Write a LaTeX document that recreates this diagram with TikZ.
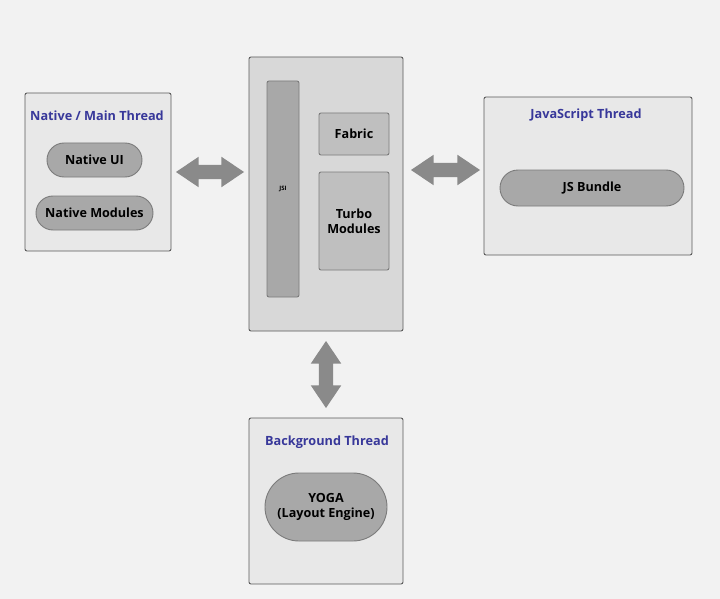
\documentclass[tikz,border=0pt]{standalone}
\usepackage{fontspec}
\setmainfont{Open Sans}
\usetikzlibrary{shapes.misc,shapes.arrows,positioning}
\definecolor{pagebg}{HTML}{F2F2F2}
\definecolor{boxfill}{HTML}{E8E8E8}
\definecolor{corefill}{HTML}{D8D8D8}
\definecolor{pillfill}{HTML}{A8A8A8}
\definecolor{partfill}{HTML}{BFBFBF}
\definecolor{edge}{HTML}{5A5A5A}
\definecolor{titleblue}{HTML}{38389A}
\definecolor{arrowgray}{HTML}{8A8A8A}
\tikzset{
  threadbox/.style={draw=edge, fill=boxfill, line width=0.9pt, rounded corners=2pt, inner sep=0pt},
  title/.style={font=\bfseries\fontsize{12.7}{15}\selectfont, text=titleblue, inner sep=0pt},
  pill/.style={rounded rectangle, draw=edge!80, fill=pillfill, line width=0.9pt, inner sep=0pt,
    font=\bfseries\fontsize{12.6}{15}\selectfont, align=center},
  part/.style={draw=edge!80, fill=partfill, line width=0.9pt, rounded corners=2pt, inner sep=0pt,
    font=\bfseries\fontsize{12.6}{15}\selectfont, align=center},
  bigarrow/.style={double arrow, fill=arrowgray, draw=none, inner xsep=0pt, inner ysep=7pt,
    minimum width=30pt, double arrow head extend=8pt, double arrow tip angle=68},
}
\begin{document}
\begin{tikzpicture}[x=1pt,y=-1pt]
  \useasboundingbox[fill=pagebg] (0,0) rectangle (720,599);
  % native / main thread
  \node[threadbox, minimum width=146pt, minimum height=158pt] (native) at (98,172) {};
  \node[title] (nativetitle) at (97,116) {Native / Main Thread};
  \node[pill, minimum width=95pt, minimum height=34pt] (nativeui) at (94.5,160) {Native UI};
  \node[pill, minimum width=117pt, minimum height=34pt] (nativemod) at (94.5,213) {Native Modules};
  % core: JSI, Fabric, Turbo Modules
  \node[threadbox, fill=corefill, minimum width=154pt, minimum height=274pt] (core) at (326,194) {};
  \node[part, fill=pillfill, minimum width=32pt, minimum height=216pt, font=\bfseries\fontsize{6}{7}\selectfont] (jsi) at (283,189) {JSI};
  \node[part, minimum width=70pt, minimum height=42pt] (fabric) at (354,134) {Fabric};
  \node[part, minimum width=70pt, minimum height=98pt] (turbo) at (354,221) {Turbo\\Modules};
  % javascript thread
  \node[threadbox, minimum width=208pt, minimum height=158pt] (jsthread) at (588,176) {};
  \node[title] (jstitle) at (586,115.5) {JavaScript Thread};
  \node[pill, minimum width=184pt, minimum height=36pt] (bundle) at (592,188) {JS Bundle};
  % background thread
  \node[threadbox, minimum width=154pt, minimum height=166pt] (bgthread) at (326,501) {};
  \node[title] (bgtitle) at (327,442) {Background Thread};
  \node[pill, minimum width=122pt, minimum height=68pt] (yoga) at (326,507) {YOGA\\(Layout Engine)};
  % arrows between threads
  \node[bigarrow, minimum height=68pt] (leftarrow) at (210,172) {};
  \node[bigarrow, minimum height=69pt] (rightarrow) at (445.5,170) {};
  \node[bigarrow, minimum height=67pt, rotate=90] (downarrow) at (326,374.5) {};
\end{tikzpicture}
\end{document}
